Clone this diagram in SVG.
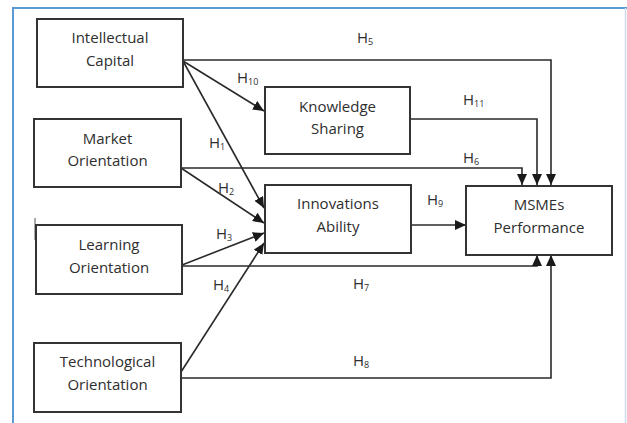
<svg xmlns="http://www.w3.org/2000/svg" width="627" height="423" viewBox="0 0 627 423">
<style>
  .box { fill: #ffffff; stroke: #333333; stroke-width: 2; }
  .lbl { font-family: "Open Sans", "Liberation Sans", sans-serif; font-size: 15px; fill: #2e2e2e; text-anchor: middle; }
  .h { font-family: "Open Sans", "Liberation Sans", sans-serif; font-size: 15px; fill: #2e2e2e; }
  .sub { font-size: 9px; }
  .conn { fill: none; stroke: #2a2a2a; stroke-width: 1.6; marker-end: url(#arr); }
</style>
<defs>
  <marker id="arr" markerUnits="userSpaceOnUse" markerWidth="12" markerHeight="10" refX="11" refY="5" orient="auto">
    <path d="M0,0 L11,5 L0,10 Z" fill="#1a1a1a"/>
  </marker>
</defs>
<rect x="0" y="0" width="627" height="423" fill="#ffffff"/>
<g id="frame" fill="none">
  <path d="M13,423 V8 H627" stroke="#5b9bd5" stroke-width="2"/>
  <path d="M625.5,8 V423" stroke="#c9dcf0" stroke-width="1.5"/>
  <path d="M35,218 V240" stroke="#555" stroke-width="1"/>
</g>
<g id="connectors">
  <path class="conn" d="M183,60 H551 V185"/>
  <path class="conn" d="M183,61 L264,111"/>
  <path class="conn" d="M183,61 L264,208"/>
  <path class="conn" d="M410,119 H537 V185"/>
  <path class="conn" d="M181,168 H522 V185"/>
  <path class="conn" d="M181,168 L264,223"/>
  <path class="conn" d="M182,265 L264,233"/>
  <path class="conn" d="M182,266 H537 V255"/>
  <path class="conn" d="M181,372 L264,243"/>
  <path class="conn" d="M181,378 H551 V255"/>
  <path class="conn" d="M411,225 H466"/>
</g>
<g id="labels">
  <text class="h" x="357" y="43">H<tspan class="sub" dy="2">5</tspan></text>
  <text class="h" x="237" y="83">H<tspan class="sub" dy="2">10</tspan></text>
  <text class="h" x="463" y="105">H<tspan class="sub" dy="2">11</tspan></text>
  <text class="h" x="209" y="148">H<tspan class="sub" dy="2">1</tspan></text>
  <text class="h" x="463" y="163">H<tspan class="sub" dy="2">6</tspan></text>
  <text class="h" x="218" y="193">H<tspan class="sub" dy="2">2</tspan></text>
  <text class="h" x="427" y="205">H<tspan class="sub" dy="2">9</tspan></text>
  <text class="h" x="216" y="239">H<tspan class="sub" dy="2">3</tspan></text>
  <text class="h" x="213" y="290">H<tspan class="sub" dy="2">4</tspan></text>
  <text class="h" x="353" y="289">H<tspan class="sub" dy="2">7</tspan></text>
  <text class="h" x="353" y="366">H<tspan class="sub" dy="2">8</tspan></text>
</g>
<g id="intellectual-capital">
  <rect class="box" x="37" y="19" width="146" height="68"/>
  <text class="lbl" x="110" y="43">Intellectual</text>
  <text class="lbl" x="110" y="66">Capital</text>
</g>
<g id="market-orientation">
  <rect class="box" x="34" y="119" width="147" height="68"/>
  <text class="lbl" x="107.5" y="144">Market</text>
  <text class="lbl" x="107.5" y="166">Orientation</text>
</g>
<g id="learning-orientation">
  <rect class="box" x="36" y="225" width="146" height="69"/>
  <text class="lbl" x="109" y="250">Learning</text>
  <text class="lbl" x="109" y="273">Orientation</text>
</g>
<g id="technological-orientation">
  <rect class="box" x="34" y="343" width="147" height="69"/>
  <text class="lbl" x="107.5" y="367">Technological</text>
  <text class="lbl" x="107.5" y="390">Orientation</text>
</g>
<g id="knowledge-sharing">
  <rect class="box" x="265" y="87" width="145" height="67"/>
  <text class="lbl" x="337.5" y="112">Knowledge</text>
  <text class="lbl" x="337.5" y="134">Sharing</text>
</g>
<g id="innovations-ability">
  <rect class="box" x="265" y="185" width="146" height="68"/>
  <text class="lbl" x="338" y="209">Innovations</text>
  <text class="lbl" x="338" y="232">Ability</text>
</g>
<g id="msmes-performance">
  <rect class="box" x="466" y="186" width="146" height="69"/>
  <text class="lbl" x="539" y="210">MSMEs</text>
  <text class="lbl" x="539" y="233">Performance</text>
</g>
</svg>
